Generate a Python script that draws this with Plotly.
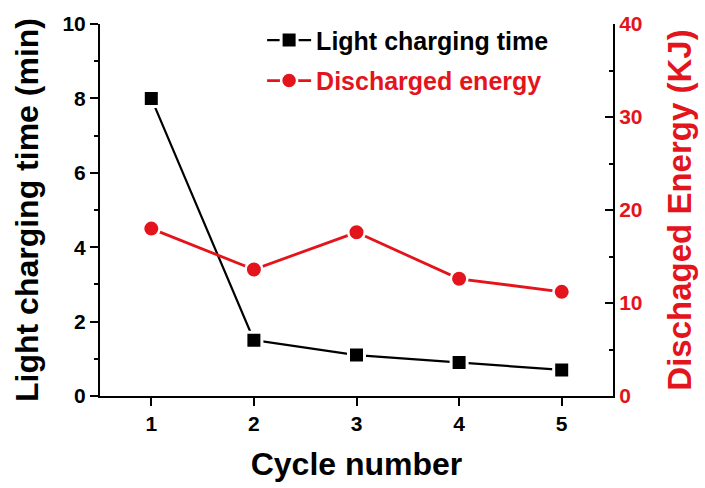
import plotly.graph_objects as go

# Cycle data
cycles = [1, 2, 3, 4, 5]
charging_time_min = [8.0, 1.5, 1.1, 0.9, 0.7]
discharged_energy_kj = [18.0, 13.6, 17.6, 12.6, 11.2]

x_ticks = [1, 2, 3, 4, 5]
y_ticks = [0, 2, 4, 6, 8, 10]
y2_ticks = [0, 10, 20, 30, 40]

RED = "#E4141C"
BLACK = "#000000"
FONT = "Arial, 'Liberation Sans', sans-serif"

fig = go.Figure()

fig.add_trace(go.Scatter(
    x=cycles, y=charging_time_min,
    name="Light charging time",
    legendgroup="a",
    mode="lines+markers",
    line=dict(color=BLACK, width=2.2),
    marker=dict(symbol="square", size=16, color=BLACK,
                line=dict(color="white", width=3)),
    yaxis="y",
))

fig.add_trace(go.Scatter(
    x=cycles, y=discharged_energy_kj,
    name=f'<span style="color:{RED}">Discharged energy</span>',
    legendgroup="b",
    mode="lines+markers",
    line=dict(color=RED, width=2.8),
    marker=dict(symbol="circle", size=16.5, color=RED,
                line=dict(color="white", width=2.5)),
    yaxis="y2",
))

fig.update_layout(
    width=705, height=488,
    margin=dict(l=100, r=92, t=19, b=87),
    paper_bgcolor="white",
    plot_bgcolor="white",
    font=dict(family=FONT, color=BLACK),
    showlegend=True,
    legend=dict(
        x=0.316, y=1.018, xanchor="left", yanchor="top",
        bgcolor="rgba(0,0,0,0)",
        font=dict(family=FONT, size=25, weight="bold", color=BLACK),
        tracegroupgap=5,
        itemwidth=44,
    ),
    xaxis=dict(
        range=[0.5, 5.5],
        tickvals=x_ticks,
        ticks="outside", ticklen=8, tickwidth=2, tickcolor=BLACK,
        showline=True, linewidth=2, linecolor=BLACK, mirror=False,
        showgrid=False, zeroline=False,
        tickfont=dict(family=FONT, size=21, weight="bold", color=BLACK),
        title=dict(text="Cycle number", standoff=18,
                   font=dict(family=FONT, size=32, weight="bold", color=BLACK)),
    ),
    yaxis=dict(
        range=[0, 10],
        tickvals=y_ticks,
        ticks="outside", ticklen=8, tickwidth=2, tickcolor=BLACK,
        minor=dict(dtick=1, ticks="outside", ticklen=4, tickwidth=2, tickcolor=BLACK),
        showline=True, linewidth=2, linecolor=BLACK, mirror=False,
        showgrid=False, zeroline=False,
        tickfont=dict(family=FONT, size=21, weight="bold", color=BLACK),
        title=dict(text="Light charging time (min)", standoff=14,
                   font=dict(family=FONT, size=32, weight="bold", color=BLACK)),
    ),
    yaxis2=dict(
        range=[0, 40],
        overlaying="y", side="right",
        tickvals=y2_ticks,
        ticks="inside", ticklen=8, tickwidth=2, tickcolor=BLACK,
        minor=dict(dtick=5, ticks="inside", ticklen=4, tickwidth=2, tickcolor=BLACK),
        showline=True, linewidth=2, linecolor=BLACK,
        showgrid=False, zeroline=False,
        tickfont=dict(family=FONT, size=21, weight="bold", color=RED),
        title=dict(text="Dischaged Energy (KJ)", standoff=26,
                   font=dict(family=FONT, size=33, weight="bold", color=RED)),
    ),
)

fig.write_html("out.html")
